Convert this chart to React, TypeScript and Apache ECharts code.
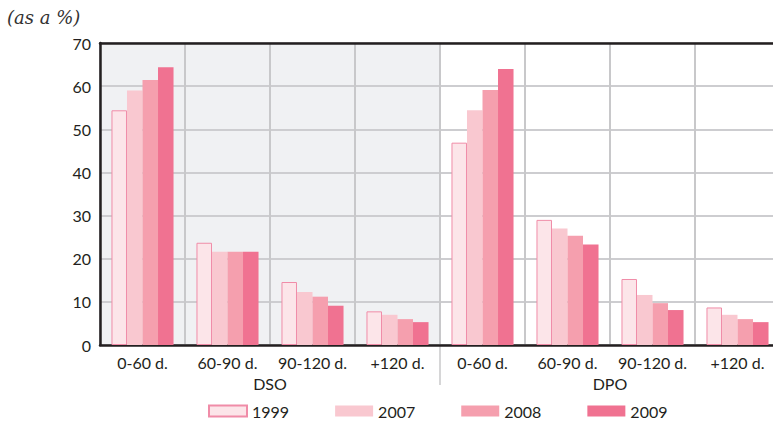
import React, { useEffect, useRef } from "react";
import * as echarts from "echarts";

const groups = ["DSO", "DPO"];
const buckets = ["0-60 d.", "60-90 d.", "90-120 d.", "+120 d."];
const categories = groups.flatMap((g) => buckets.map((b) => g + "|" + b));
const seriesNames = ["1999", "2007", "2008", "2009"];
const v1999 = [54.4, 23.7, 14.6, 7.8, 46.9, 29.0, 15.3, 8.7];
const v2007 = [59.0, 21.6, 12.3, 7.0, 54.4, 27.0, 11.6, 7.0];
const v2008 = [61.4, 21.6, 11.2, 6.0, 59.1, 25.3, 9.7, 6.0];
const v2009 = [64.4, 21.6, 9.1, 5.3, 64.0, 23.3, 8.1, 5.3];
const yTicks = [0, 70, 10];

const FONT = "Lato";
const TXT = "#231f20";

export default function App() {
  const ref = useRef<HTMLDivElement>(null);
  useEffect(() => {
    if (!ref.current) return;
    const chart = echarts.init(ref.current, undefined, { renderer: "svg" });
    const colors = ["#fce5e9", "#f9c8d0", "#f59fae", "#f07291"];
    const values = [v1999, v2007, v2008, v2009];
    const bars = seriesNames.map((name, i) => ({
      name,
      type: "bar",
      xAxisIndex: 0,
      yAxisIndex: 0,
      data: values[i],
      barGap: "0%",
      barCategoryGap: "27%",
      z: 3,
      itemStyle:
        i === 0
          ? { color: colors[i], borderColor: "#f08ca8", borderWidth: 1 }
          : { color: colors[i] },
    }));
    chart.setOption({
      animation: false,
      backgroundColor: "#ffffff",
      textStyle: { fontFamily: FONT },
      grid: { left: 100, top: 43, width: 680, bottom: 76, outerBoundsMode: "none", containLabel: false },
      legend: {
        left: 208,
        top: 403,
        padding: 0,
        itemWidth: 38,
        itemHeight: 11,
        itemGap: 46,
        icon: "rect",
        textStyle: { fontFamily: FONT, fontSize: 16, color: TXT },
        data: seriesNames,
      },
      xAxis: [
        {
          type: "category",
          data: categories,
          position: "bottom",
          z: 1,
          axisLine: { show: true, lineStyle: { color: "#231f20", width: 2.5 } },
          axisTick: { show: false },
          axisLabel: {
            formatter: (v: string) => v.split("|")[1],
            fontFamily: FONT,
            fontSize: 16,
            color: TXT,
            margin: 9,
            interval: 0,
          },
          splitLine: { show: true, lineStyle: { color: "#c8c8ca", width: 2 } },
        },
        {
          type: "category",
          data: groups,
          position: "bottom",
          axisLine: { show: false },
          axisTick: { show: false },
          splitLine: { show: false },
          axisLabel: { fontFamily: FONT, fontSize: 16, color: TXT, margin: 30 },
        },
        {
          type: "value",
          min: 0,
          max: 8,
          position: "top",
          z: 1,
          axisLine: { show: true, lineStyle: { color: "#231f20", width: 2.5 } },
          axisTick: { show: false },
          axisLabel: { show: false },
          splitLine: { show: false },
        },
      ],
      yAxis: {
        type: "value",
        min: yTicks[0],
        max: yTicks[1],
        interval: yTicks[2],
        z: 1,
        axisLine: { show: true, lineStyle: { color: "#231f20", width: 2.5 } },
        axisTick: { show: false },
        axisLabel: { fontFamily: FONT, fontSize: 16, color: TXT, margin: 9 },
        splitLine: { show: true, lineStyle: { color: "#cdcdd0", width: 2 } },
      },
      series: [
        {
          type: "line",
          xAxisIndex: 2,
          yAxisIndex: 0,
          data: [[0, 0]],
          symbol: "none",
          silent: true,
          z: -1,
          lineStyle: { opacity: 0 },
          markArea: {
            silent: true,
            z: -1,
            itemStyle: { color: "#f0f1f3" },
            data: [[{ xAxis: 0 }, { xAxis: buckets.length }]],
          },
        },
        ...bars,
      ],
    });
    const xDiv = chart.convertToPixel({ xAxisIndex: 2 }, buckets.length) as number;
    const y0 = chart.convertToPixel({ yAxisIndex: 0 }, 0) as number;
    chart.setOption({
      graphic: [
        {
          type: "text",
          left: 7,
          top: 8,
          style: {
            text: "(as a %)",
            font: "italic 18px 'DejaVu Serif', 'Liberation Serif', serif",
            fill: "#333",
          },
        },
        {
          type: "line",
          shape: { x1: xDiv, y1: y0 + 1, x2: xDiv, y2: y0 + 40 },
          style: { stroke: "#c8c8ca", lineWidth: 1.5 },
        },
      ],
    });
    return () => chart.dispose();
  }, []);
  return <div ref={ref} style={{ width: 773, height: 421, position: "absolute", left: 0, top: 0 }} />;
}
